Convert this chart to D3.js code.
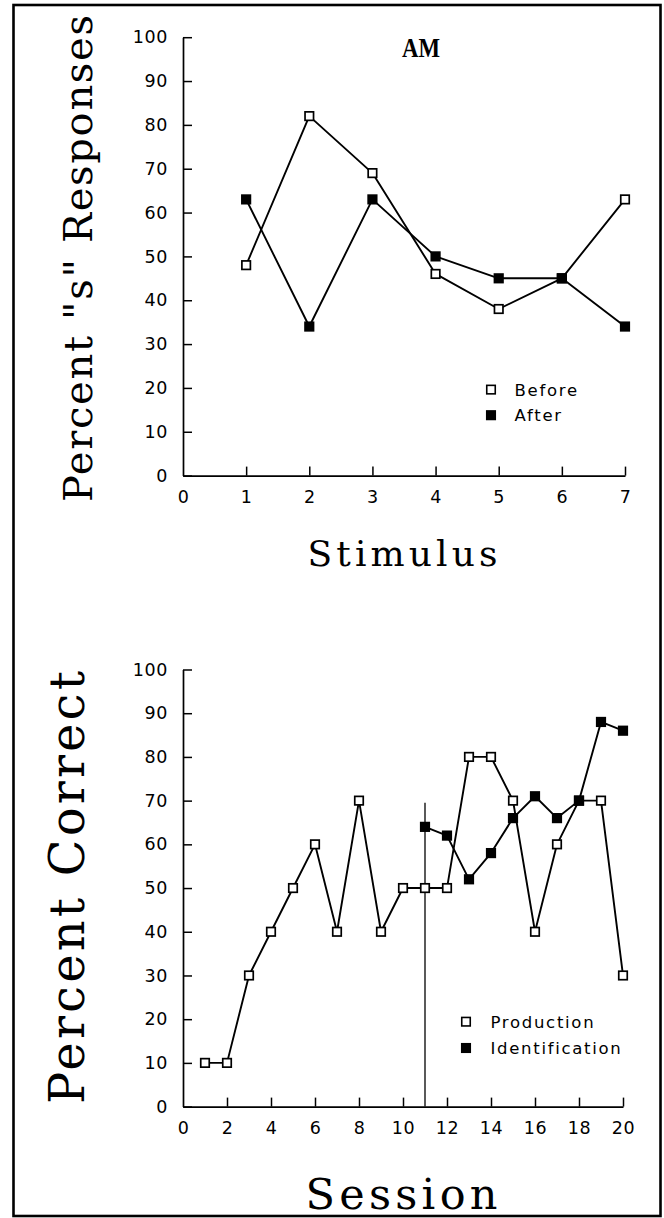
<!DOCTYPE html>
<html>
<head>
<meta charset="utf-8">
<script src="https://cdn.jsdelivr.net/npm/d3@7"></script>
<style>
  html, body { margin: 0; padding: 0; background: #fff; }
  svg { display: block; }
</style>
</head>
<body>
<svg id="chart" width="664" height="1218"></svg>
<script>
// ---------- data ----------
const stimuli = [1, 2, 3, 4, 5, 6, 7];
const beforeValues = [48, 82, 69, 46, 38, 45, 63];
const afterValues  = [63, 34, 63, 50, 45, 45, 34];
const stimulusTicks = [0, 1, 2, 3, 4, 5, 6, 7];

const sessions = [1, 2, 3, 4, 5, 6, 7, 8, 9, 10, 11, 12, 13, 14, 15, 16, 17, 18, 19, 20];
const productionValues = [10, 10, 30, 40, 50, 60, 40, 70, 40, 50, 50, 50, 80, 80, 70, 40, 60, 70, 70, 30];
const identSessions = [11, 12, 13, 14, 15, 16, 17, 18, 19, 20];
const identificationValues = [64, 62, 52, 58, 66, 71, 66, 70, 88, 86];
const sessionTicks = [0, 2, 4, 6, 8, 10, 12, 14, 16, 18, 20];
const percentTicks = [0, 10, 20, 30, 40, 50, 60, 70, 80, 90, 100];
const phaseChange = { session: 11, top: 69.5 };

const topLegend = ["Before", "After"];
const bottomLegend = ["Production", "Identification"];

// ---------- drawing ----------
const svg = d3.select("#chart");
svg.append("rect").attr("x", 0).attr("y", 0).attr("width", 664).attr("height", 1218).attr("fill", "#fff");

// frame
svg.append("rect")
  .attr("x", 13.5).attr("y", 5).attr("width", 647).attr("height", 1211)
  .attr("fill", "none").attr("stroke", "#000").attr("stroke-width", 2.6);

const sansFont = "'DejaVu Sans', sans-serif";
const serifFont = "'DejaVu Serif', serif";
const intFmt = d3.format("d");

function styleAxis(g) {
  g.attr("font-family", sansFont).attr("font-size", 17.5);
  g.selectAll(".domain").attr("stroke", "#000").attr("stroke-width", 1.7);
  g.selectAll(".tick line").attr("stroke", "#000").attr("stroke-width", 1.5);
  g.selectAll(".tick text").attr("fill", "#000").attr("letter-spacing", 0.6);
}

function drawPanel(opts) {
  const g = svg.append("g");
  const x = d3.scaleLinear().domain(opts.xDomain).range(opts.xRange);
  const y = d3.scaleLinear().domain([0, 100]).range(opts.yRange);

  g.append("g")
    .attr("transform", `translate(${opts.xRange[0]},0)`)
    .call(d3.axisLeft(y).tickValues(percentTicks).tickFormat(intFmt)
      .tickSize(-9).tickSizeOuter(0).tickPadding(15))
    .call(styleAxis);

  const xa = g.append("g")
    .attr("transform", `translate(0,${opts.yRange[0]})`)
    .call(d3.axisBottom(x).tickValues(opts.xTickValues).tickFormat(intFmt)
      .tickSize(-9).tickSizeOuter(0).tickPadding(15))
    .call(styleAxis);
  xa.selectAll(".tick").filter(d => d === 0).select("line").remove();

  return { g, x, y };
}

function drawSeries(panel, xs, ys, filled) {
  const line = d3.line().x((d, i) => panel.x(xs[i])).y(d => panel.y(d));
  panel.g.append("path")
    .datum(ys)
    .attr("d", line)
    .attr("fill", "none")
    .attr("stroke", "#000")
    .attr("stroke-width", 1.9)
    .attr("stroke-linejoin", "round");
  const s = 8.5;
  panel.g.selectAll(null)
    .data(ys)
    .enter().append("rect")
    .attr("x", (d, i) => panel.x(xs[i]) - s / 2)
    .attr("y", d => panel.y(d) - s / 2)
    .attr("width", s).attr("height", s)
    .attr("fill", filled ? "#000" : "#fff")
    .attr("stroke", "#000")
    .attr("stroke-width", 1.7);
}

function drawLegend(labels, mx, my0, gap, tx) {
  const lg = svg.append("g");
  labels.forEach((lab, i) => {
    const cy = my0 + i * gap;
    const s = 8.5;
    lg.append("rect")
      .attr("x", mx - s / 2).attr("y", cy - s / 2)
      .attr("width", s).attr("height", s)
      .attr("fill", i === 0 ? "#fff" : "#000")
      .attr("stroke", "#000").attr("stroke-width", 1.6);
    lg.append("text")
      .attr("x", tx).attr("y", cy)
      .attr("dy", "0.36em")
      .attr("font-family", sansFont)
      .attr("font-size", 16.5)
      .attr("letter-spacing", 1.7)
      .attr("fill", "#000")
      .text(lab);
  });
}

function yTitle(text, cx, cy, size, len) {
  svg.append("text")
    .attr("transform", `translate(${cx},${cy}) rotate(-90)`)
    .attr("text-anchor", "middle")
    .attr("font-family", serifFont)
    .attr("font-size", size)
    .attr("textLength", len)
    .attr("lengthAdjust", "spacing")
    .attr("fill", "#000")
    .text(text);
}

function xTitle(text, cx, cy, size, len) {
  svg.append("text")
    .attr("x", cx).attr("y", cy)
    .attr("text-anchor", "middle")
    .attr("font-family", serifFont)
    .attr("font-size", size)
    .attr("textLength", len)
    .attr("lengthAdjust", "spacing")
    .attr("fill", "#000")
    .text(text);
}

// ----- top panel -----
const topPanel = drawPanel({
  xDomain: [0, 7], xRange: [183, 625],
  yRange: [475.6, 37.2],
  xTickValues: stimulusTicks
});
drawSeries(topPanel, stimuli, beforeValues, false);
drawSeries(topPanel, stimuli, afterValues, true);
drawLegend(topLegend, 491, 389.6, 25.6, 514.6);

svg.append("text")
  .attr("x", 421).attr("y", 56.7)
  .attr("text-anchor", "middle")
  .attr("font-family", "'Liberation Serif', serif")
  .attr("font-weight", "bold")
  .attr("font-size", 27)
  .attr("textLength", 38)
  .attr("lengthAdjust", "spacingAndGlyphs")
  .attr("fill", "#000")
  .text("AM");

yTitle('Percent "s" Responses', 92, 258.5, 40, 487);
xTitle("Stimulus", 402.5, 565.6, 36, 190);

// ----- bottom panel -----
const bottomPanel = drawPanel({
  xDomain: [0, 20], xRange: [183, 623],
  yRange: [1106.6, 669.5],
  xTickValues: sessionTicks
});
bottomPanel.g.append("line")
  .attr("x1", bottomPanel.x(phaseChange.session)).attr("x2", bottomPanel.x(phaseChange.session))
  .attr("y1", bottomPanel.y(phaseChange.top)).attr("y2", bottomPanel.y(0))
  .attr("stroke", "#000").attr("stroke-width", 1.3);
drawSeries(bottomPanel, sessions, productionValues, false);
drawSeries(bottomPanel, identSessions, identificationValues, true);
drawLegend(bottomLegend, 466, 1021.7, 26.3, 490.5);

yTitle("Percent Correct", 84, 887.5, 48, 433);
xTitle("Session", 401.5, 1208.5, 43, 192);
</script>
</body>
</html>
